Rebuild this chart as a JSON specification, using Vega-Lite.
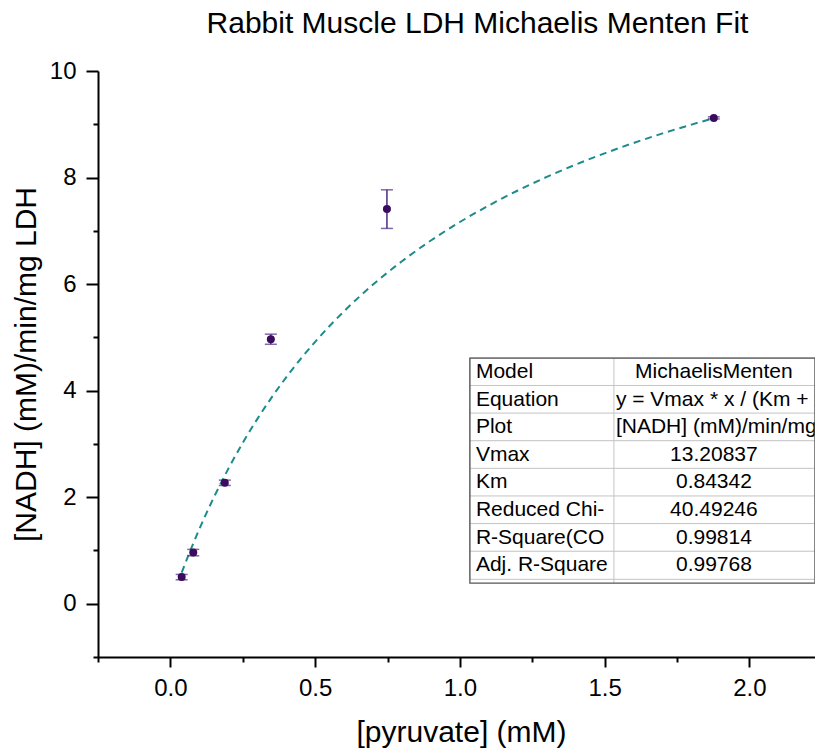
{
  "$schema": "https://vega.github.io/schema/vega-lite/v6.json",
  "width": 717,
  "height": 586,
  "autosize": {"type": "none"},
  "padding": {"left": 98, "top": 71, "right": 0, "bottom": 92},
  "background": "white",
  "config": {
    "view": {"stroke": null},
    "font": "Liberation Sans",
    "axis": {
      "labelFont": "Liberation Sans",
      "titleFont": "Liberation Sans",
      "grid": false,
      "domainColor": "black",
      "tickColor": "black",
      "labelColor": "black",
      "titleColor": "black",
      "titleFontWeight": "normal"
    }
  },
  "title": {
    "text": "Rabbit Muscle LDH Michaelis Menten Fit",
    "font": "Liberation Sans",
    "fontSize": 30,
    "fontWeight": "normal",
    "color": "black",
    "anchor": "middle",
    "frame": "group",
    "baseline": "alphabetic",
    "offset": 4,
    "dx": 21,
    "dy": 8
  },
  "datasets": {
    "points": [
      {"x": 0.039, "y": 0.50, "lo": 0.45, "hi": 0.55},
      {"x": 0.079, "y": 0.96, "lo": 0.90, "hi": 1.02},
      {"x": 0.188, "y": 2.27, "lo": 2.22, "hi": 2.32},
      {"x": 0.347, "y": 4.965, "lo": 4.87, "hi": 5.06},
      {"x": 0.748, "y": 7.41, "lo": 7.045, "hi": 7.77},
      {"x": 1.877, "y": 9.118, "lo": 9.10, "hi": 9.14}
    ],
    "fit": [
      {"x": 0.039, "y": 0.5838},
      {"x": 0.06, "y": 0.8772},
      {"x": 0.08, "y": 1.1443},
      {"x": 0.1, "y": 1.4001},
      {"x": 0.125, "y": 1.7049},
      {"x": 0.15, "y": 1.9944},
      {"x": 0.2, "y": 2.5317},
      {"x": 0.25, "y": 3.0200},
      {"x": 0.3, "y": 3.4655},
      {"x": 0.35, "y": 3.8737},
      {"x": 0.4, "y": 4.2490},
      {"x": 0.5, "y": 4.9160},
      {"x": 0.6, "y": 5.4905},
      {"x": 0.7, "y": 5.9905},
      {"x": 0.8, "y": 6.4297},
      {"x": 0.9, "y": 6.8185},
      {"x": 1.0, "y": 7.1652},
      {"x": 1.1, "y": 7.4761},
      {"x": 1.2, "y": 7.7566},
      {"x": 1.3, "y": 8.0110},
      {"x": 1.4, "y": 8.2426},
      {"x": 1.5, "y": 8.4545},
      {"x": 1.6, "y": 8.6491},
      {"x": 1.7, "y": 8.8284},
      {"x": 1.8, "y": 8.9940},
      {"x": 1.877, "y": 9.1134}
    ],
    "table": [
      {"row": 1, "name": "Model", "value": "MichaelisMenten"},
      {"row": 2, "name": "Equation", "value": "y = Vmax * x / (Km + x)"},
      {"row": 3, "name": "Plot", "value": "[NADH] (mM)/min/mg LDH"},
      {"row": 4, "name": "Vmax", "value": "13.20837"},
      {"row": 5, "name": "Km", "value": "0.84342"},
      {"row": 6, "name": "Reduced Chi-Sqr", "value": "40.49246"},
      {"row": 7, "name": "R-Square(COD)", "value": "0.99814"},
      {"row": 8, "name": "Adj. R-Square", "value": "0.99768"}
    ]
  },
  "resolve": {"scale": {"y": "independent"}, "axis": {"x": "independent", "y": "independent"}},
  "layer": [
    {
      "layer": [
        {
          "data": {"name": "fit"},
          "mark": {"type": "line", "color": "#1b8b8b", "strokeWidth": 2, "strokeDash": [7, 5], "interpolate": "monotone"},
          "encoding": {
            "x": {
              "field": "x", "type": "quantitative",
              "scale": {"domain": [-0.25, 2.2266], "nice": false, "zero": false},
              "axis": {
                "orient": "bottom", "values": [0, 0.5, 1, 1.5, 2], "format": ".1f",
                "tickSize": 10, "tickWidth": 2, "domainWidth": 2,
                "labelFontSize": 24, "labelPadding": 9,
                "title": "[pyruvate] (mM)", "titleFontSize": 30, "titlePadding": 17, "titleX": 363
              }
            },
            "y": {
              "field": "y", "type": "quantitative",
              "scale": {"domain": [-1, 10], "nice": false, "zero": false},
              "axis": {
                "orient": "left", "values": [0, 2, 4, 6, 8, 10],
                "tickSize": 12, "tickWidth": 2, "domainWidth": 2,
                "labelFontSize": 24, "labelPadding": 10,
                "title": "[NADH] (mM)/min/mg LDH", "titleFontSize": 30, "titlePadding": 8
              }
            }
          }
        },
        {
          "data": {"name": "points"},
          "mark": {"type": "errorbar", "ticks": {"size": 12, "thickness": 1.5, "color": "#4b2a80"}, "rule": {"strokeWidth": 1.5, "color": "#4b2a80"}},
          "encoding": {
            "x": {
              "field": "x", "type": "quantitative",
              "axis": {
                "orient": "bottom", "values": [0, 0.5, 1, 1.5, 2], "format": ".1f",
                "tickSize": 10, "tickWidth": 2, "domainWidth": 2,
                "labelFontSize": 24, "labelPadding": 9,
                "title": "[pyruvate] (mM)", "titleFontSize": 30, "titlePadding": 17, "titleX": 363
              }
            },
            "y": {
              "field": "lo", "type": "quantitative",
              "axis": {
                "orient": "left", "values": [0, 2, 4, 6, 8, 10],
                "tickSize": 12, "tickWidth": 2, "domainWidth": 2,
                "labelFontSize": 24, "labelPadding": 10,
                "title": "[NADH] (mM)/min/mg LDH", "titleFontSize": 30, "titlePadding": 8
              }
            },
            "y2": {"field": "hi"}
          }
        },
        {
          "data": {"name": "points"},
          "mark": {"type": "circle", "size": 64, "color": "#3b0b5e", "opacity": 1},
          "encoding": {
            "x": {
              "field": "x", "type": "quantitative",
              "axis": {
                "orient": "bottom", "values": [0, 0.5, 1, 1.5, 2], "format": ".1f",
                "tickSize": 10, "tickWidth": 2, "domainWidth": 2,
                "labelFontSize": 24, "labelPadding": 9,
                "title": "[pyruvate] (mM)", "titleFontSize": 30, "titlePadding": 17, "titleX": 363
              }
            },
            "y": {
              "field": "y", "type": "quantitative",
              "axis": {
                "orient": "left", "values": [0, 2, 4, 6, 8, 10],
                "tickSize": 12, "tickWidth": 2, "domainWidth": 2,
                "labelFontSize": 24, "labelPadding": 10,
                "title": "[NADH] (mM)/min/mg LDH", "titleFontSize": 30, "titlePadding": 8
              }
            }
          }
        }
      ]
    },
    {
      "data": {"values": [{"x": 0, "y": 0}]},
      "mark": {"type": "point", "opacity": 0},
      "encoding": {
        "x": {
          "field": "x", "type": "quantitative",
          "scale": {"domain": [-0.25, 2.2266], "nice": false, "zero": false},
          "axis": {"orient": "bottom", "values": [-0.25, 0.25, 0.75, 1.25, 1.75], "tickSize": 5, "tickWidth": 2, "labels": false, "domain": false, "title": null}
        },
        "y": {
          "field": "y", "type": "quantitative",
          "scale": {"domain": [-1, 10], "nice": false, "zero": false},
          "axis": {"orient": "left", "values": [-1, 1, 3, 5, 7, 9], "tickSize": 5, "tickWidth": 2, "labels": false, "domain": false, "title": null}
        }
      }
    },
    {
      "data": {"name": "table"},
      "layer": [
        {
          "mark": {"type": "bar", "height": 28.1, "fill": "white", "stroke": "#c4c4c4", "strokeWidth": 1},
          "encoding": {
            "x": {"datum": 1.0345, "type": "quantitative", "axis": null},
            "x2": {"datum": 2.2266},
            "y": {"field": "row", "type": "quantitative", "axis": null,
                  "scale": {"domain": [-9.7135, 11.1406], "reverse": true, "nice": false, "zero": false}}
          }
        },
        {
          "mark": {"type": "text", "align": "left", "baseline": "middle", "fontSize": 21, "limit": 136, "ellipsis": " ", "color": "black", "font": "Liberation Sans"},
          "encoding": {
            "x": {"datum": 1.0553, "type": "quantitative", "axis": null},
            "y": {"field": "row", "type": "quantitative", "axis": null},
            "text": {"field": "name"}
          }
        },
        {
          "transform": [{"filter": {"not": {"field": "name", "oneOf": ["Equation", "Plot"]}}}],
          "mark": {"type": "text", "align": "center", "baseline": "middle", "fontSize": 21, "color": "black", "font": "Liberation Sans"},
          "encoding": {
            "x": {"datum": 1.8774, "type": "quantitative", "axis": null},
            "y": {"field": "row", "type": "quantitative", "axis": null},
            "text": {"field": "value"}
          }
        },
        {
          "transform": [{"filter": {"field": "name", "oneOf": ["Equation", "Plot"]}}],
          "mark": {"type": "text", "align": "left", "baseline": "middle", "fontSize": 21, "color": "black", "font": "Liberation Sans"},
          "encoding": {
            "x": {"datum": 1.539, "type": "quantitative", "axis": null},
            "y": {"field": "row", "type": "quantitative", "axis": null},
            "text": {"field": "value"}
          }
        }
      ]
    },
    {
      "data": {"values": [{}]},
      "layer": [
        {
          "mark": {"type": "rule", "color": "#c4c4c4", "strokeWidth": 1},
          "encoding": {
            "x": {"datum": 1.532, "type": "quantitative", "axis": null},
            "y": {"datum": 4.612, "type": "quantitative", "axis": null, "scale": {"domain": [-1, 10], "nice": false, "zero": false}},
            "y2": {"datum": 0.388}
          }
        },
        {
          "mark": {"type": "rect", "fill": "white", "fillOpacity": 0, "stroke": "#555555", "strokeWidth": 1.3},
          "encoding": {
            "x": {"datum": 1.0345, "type": "quantitative", "axis": null},
            "x2": {"datum": 2.2266},
            "y": {"datum": 4.612, "type": "quantitative", "axis": null},
            "y2": {"datum": 0.388}
          }
        }
      ]
    }
  ]
}
